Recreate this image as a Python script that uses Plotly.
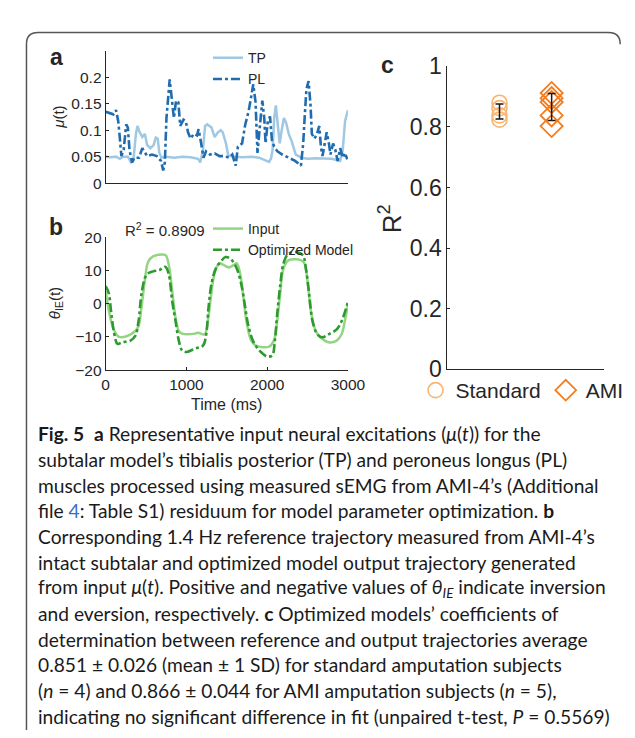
import numpy as np
import plotly.graph_objects as go

# ---------------- data ----------------
# Panel a: neural excitations mu(t)
tp_t = [0, 60, 130, 175, 215, 275, 315, 343, 375, 394, 422, 454, 486, 514, 554, 594, 621, 645, 665, 693,
        750, 850, 950, 1050, 1145, 1171, 1203, 1231, 1259, 1311, 1350, 1390, 1425, 1450, 1490, 1518,
        1600, 1700, 1800, 1900, 2023, 2047, 2067, 2087, 2107, 2139, 2155, 2179, 2207, 2235, 2267, 2306,
        2354, 2426, 2500, 2600, 2700, 2800, 2904, 2936, 2964, 3000]
tp_v = [0.050, 0.049, 0.050, 0.046, 0.050, 0.050, 0.039, 0.042, 0.093, 0.108, 0.096, 0.087, 0.093, 0.072,
        0.066, 0.072, 0.086, 0.084, 0.057, 0.048, 0.050, 0.048, 0.050, 0.049, 0.046, 0.039, 0.060, 0.108,
        0.111, 0.105, 0.087, 0.096, 0.100, 0.096, 0.075, 0.052, 0.050, 0.049, 0.050, 0.048, 0.040, 0.046,
        0.063, 0.123, 0.147, 0.099, 0.075, 0.099, 0.123, 0.114, 0.093, 0.078, 0.054, 0.048, 0.046, 0.047,
        0.046, 0.046, 0.042, 0.063, 0.117, 0.138]

pl_t = [0, 56, 96, 128, 155, 175, 195, 223, 255, 275, 295, 327, 355, 414, 454, 486, 514, 574, 633, 685,
        713, 733, 753, 793, 821, 845, 872, 900, 924, 964, 992, 1020, 1052, 1091, 1131, 1151, 1183, 1211,
        1243, 1291, 1350, 1410, 1470, 1530, 1569, 1610, 1637, 1689, 1729, 1769, 1797, 1828, 1856, 1880,
        1908, 1940, 1964, 1980, 2008, 2035, 2059, 2087, 2127, 2187, 2267, 2346, 2418, 2446, 2466, 2486,
        2513, 2537, 2553, 2585, 2617, 2645, 2665, 2685, 2713, 2737, 2764, 2784, 2816, 2844, 2872, 2904,
        2936, 2964, 2992]
pl_v = [0.135, 0.132, 0.130, 0.138, 0.118, 0.087, 0.051, 0.063, 0.111, 0.105, 0.063, 0.039, 0.048, 0.048,
        0.066, 0.058, 0.051, 0.054, 0.051, 0.042, 0.024, 0.039, 0.123, 0.196, 0.153, 0.123, 0.156, 0.153,
        0.108, 0.120, 0.117, 0.096, 0.084, 0.093, 0.090, 0.102, 0.075, 0.048, 0.060, 0.054, 0.056, 0.051,
        0.051, 0.048, 0.054, 0.033, 0.069, 0.075, 0.111, 0.135, 0.159, 0.187, 0.153, 0.057, 0.105, 0.156,
        0.123, 0.075, 0.117, 0.126, 0.081, 0.069, 0.060, 0.054, 0.048, 0.042, 0.033, 0.075, 0.129, 0.178,
        0.193, 0.147, 0.093, 0.084, 0.093, 0.108, 0.069, 0.051, 0.075, 0.096, 0.075, 0.054, 0.075, 0.063,
        0.042, 0.066, 0.048, 0.057, 0.045]

# Panel b: theta_IE(t)
in_t = [0, 28, 68, 108, 168, 267, 367, 407, 447, 487, 527, 587, 706, 746, 786, 826, 866, 906, 946, 1105,
        1145, 1225, 1265, 1305, 1345, 1405, 1464, 1524, 1584, 1624, 1664, 1704, 1744, 1803, 1863, 2023,
        2083, 2123, 2163, 2202, 2262, 2422, 2462, 2502, 2542, 2601, 2661, 2761, 2861, 2921, 2961, 3000]
in_v = [3.9, -0.5, -5.3, -8.2, -10.0, -9.7, -8.2, -6.8, -0.5, 7.2, 12.6, 14.2, 14.8, 14.5, 11.1, 3.4, -4.3,
        -8.2, -9.0, -9.0, -8.7, -9.2, -5.3, 2.4, 8.7, 12.1, 11.6, 10.9, 11.6, 12.1, 9.2, 2.4, -5.3, -11.1,
        -12.6, -12.9, -11.1, -5.3, 3.4, 10.6, 13.0, 13.0, 12.1, 6.3, -2.4, -8.2, -10.1, -11.6, -11.1, -9.2,
        -5.3, -0.5]

opt_t = [0, 36, 68, 108, 148, 207, 307, 367, 407, 447, 507, 587, 666, 738, 778, 826, 866, 906, 946, 1005,
         1105, 1205, 1245, 1273, 1313, 1365, 1424, 1484, 1544, 1604, 1644, 1684, 1724, 1764, 1823, 1883,
         1943, 2003, 2063, 2095, 2123, 2163, 2202, 2262, 2362, 2442, 2482, 2522, 2562, 2621, 2681, 2761,
         2861, 2921, 3000]
opt_v = [5.3, 3.4, -2.4, -9.2, -12.1, -11.6, -11.1, -9.7, -5.3, 3.4, 8.7, 9.7, 10.1, 11.1, 9.2, 0.5, -5.3,
         -11.1, -14.0, -14.5, -13.5, -12.6, -9.2, -1.4, 6.3, 10.6, 12.6, 14.0, 13.5, 11.6, 9.2, 5.3, -0.5,
         -6.3, -11.1, -13.5, -15.0, -15.9, -15.5, -11.1, -3.4, 5.8, 12.1, 15.0, 15.5, 14.5, 10.1, 2.4, -5.3,
         -9.2, -10.1, -9.2, -7.7, -5.3, 0.5]

# Panel c: R^2 per subject
groups = ["Standard", "AMI"]
group_x = [1, 2]
standard_r2 = [0.880, 0.862, 0.838, 0.824]
ami_r2 = [0.912, 0.895, 0.882, 0.838, 0.803]

a_yticks = [0, 0.05, 0.1, 0.15, 0.2]
a_yticktext = ["0", "0.05", "0.1", "0.15", "0.2"]
b_yticks = [-20, -10, 0, 10, 20]
b_xticks = [0, 1000, 2000, 3000]
c_yticks = [0, 0.2, 0.4, 0.6, 0.8, 1]

caption_lines = [
    "<b>Fig. 5</b>  <b>a</b> Representative input neural excitations (<i>μ</i>(<i>t</i>)) for the",
    "subtalar model’s tibialis posterior (TP) and peroneus longus (PL)",
    "muscles processed using measured sEMG from AMI-4’s (Additional",
    "file <span style='color:#3a6fc4'>4</span>: Table S1) residuum for model parameter optimization. <b>b</b>",
    "Corresponding 1.4 Hz reference trajectory measured from AMI-4’s",
    "intact subtalar and optimized model output trajectory generated",
    "from input <i>μ</i>(<i>t</i>). Positive and negative values of <i>θ<sub>IE</sub></i> indicate inversion",
    "and eversion, respectively. <b>c</b> Optimized models’ coefficients of",
    "determination between reference and output trajectories average",
    "0.851 ± 0.026 (mean ± 1 SD) for standard amputation subjects",
    "(<i>n</i> = 4) and 0.866 ± 0.044 for AMI amputation subjects (<i>n</i> = 5),",
    "indicating no significant difference in fit (unpaired t-test, <i>P</i> = 0.5569)",
]

# ---------------- figure ----------------
W, H = 635, 738
AX = "#262626"
FONT = "Liberation Sans, Arial, sans-serif"
CAPFONT = "Lato, sans-serif"

def px(x):
    return x / W

def py(y):
    return 1 - y / H

fig = go.Figure()

fig.add_trace(go.Scatter(x=tp_t, y=tp_v, mode="lines", name="TP",
                         line=dict(color="#9fc8e3", width=2.5), xaxis="x", yaxis="y", legend="legend"))
fig.add_trace(go.Scatter(x=pl_t, y=pl_v, mode="lines", name="PL",
                         line=dict(color="#1f6cb0", width=2.6, dash="dashdot"), xaxis="x", yaxis="y",
                         legend="legend"))

fig.add_trace(go.Scatter(x=in_t, y=in_v, mode="lines", name="Input", line_shape="spline",
                         line=dict(color="#93d582", width=2.5), xaxis="x2", yaxis="y2", legend="legend2"))
fig.add_trace(go.Scatter(x=opt_t, y=opt_v, mode="lines", name="Optimized Model", line_shape="spline",
                         line=dict(color="#2b9a2f", width=2.6, dash="dashdot"), xaxis="x2", yaxis="y2",
                         legend="legend2"))

fig.add_trace(go.Scatter(x=[group_x[0]] * len(standard_r2), y=standard_r2, mode="markers", name=groups[0],
                         marker=dict(symbol="circle-open", size=15, color="#f9b46e", line=dict(width=1.6)),
                         xaxis="x3", yaxis="y3", legend="legend3"))
fig.add_trace(go.Scatter(x=[group_x[1]] * len(ami_r2), y=ami_r2, mode="markers", name=groups[1],
                         marker=dict(symbol="diamond-open", size=17, color="#f47c1c", line=dict(width=1.8)),
                         xaxis="x3", yaxis="y3", legend="legend3"))
means = [float(np.mean(standard_r2)), float(np.mean(ami_r2))]
sds = [float(np.std(standard_r2, ddof=1)), float(np.std(ami_r2, ddof=1))]
fig.add_trace(go.Scatter(x=group_x, y=means, mode="markers", showlegend=False,
                         marker=dict(size=1, color="rgba(0,0,0,0)"),
                         error_y=dict(type="data", array=sds, visible=True, color="#1a1a1a",
                                      thickness=1.5, width=4),
                         xaxis="x3", yaxis="y3"))

axis_common = dict(showline=True, linecolor=AX, linewidth=1, showgrid=False, zeroline=False,
                   ticks="inside", tickcolor=AX, ticklen=3, tickfont=dict(family=FONT, color=AX))
small_tick = dict(family=FONT, color=AX, size=15.5)

fig.update_layout(
    width=W, height=H, margin=dict(l=0, r=0, t=0, b=0),
    paper_bgcolor="white", plot_bgcolor="white",
    font=dict(family=FONT, color=AX),
    xaxis=dict(domain=[px(97), px(348)], range=[0, 3000], anchor="y", showticklabels=False,
               **{**axis_common, "ticks": ""}),
    yaxis=dict(domain=[py(168), py(31)], range=[0, 0.25], anchor="x", tickvals=a_yticks,
               ticktext=a_yticktext, **{**axis_common, "tickfont": small_tick}),
    xaxis2=dict(domain=[px(97), px(348)], range=[0, 3000], anchor="y2", tickvals=b_xticks,
                **{**axis_common, "tickfont": small_tick}),
    yaxis2=dict(domain=[py(362), py(224)], range=[-20, 20], anchor="x2", tickvals=b_yticks,
                **{**axis_common, "tickfont": small_tick}),
    xaxis3=dict(domain=[px(451), px(613)], range=[0, 3], anchor="y3", showticklabels=False,
                **{**axis_common, "ticks": ""}),
    yaxis3=dict(domain=[py(361), py(47)], range=[0, 1], anchor="x3", tickvals=c_yticks,
                **{**axis_common, "tickfont": dict(family=FONT, color=AX, size=23)}),
    legend=dict(x=px(203), y=py(22), xanchor="left", yanchor="top", bgcolor="rgba(0,0,0,0)",
                font=dict(family=FONT, size=14, color=AX), itemwidth=30, tracegroupgap=0),
    legend2=dict(x=px(203), y=py(199), xanchor="left", yanchor="top", bgcolor="rgba(0,0,0,0)",
                 font=dict(family=FONT, size=14, color=AX), itemwidth=30, tracegroupgap=0),
    legend3=dict(x=px(418), y=py(383), xanchor="left", yanchor="middle", orientation="h",
                 bgcolor="rgba(0,0,0,0)", font=dict(family=FONT, size=21, color=AX), itemwidth=30),
)

ann = []
def add_text(x, y, text, size, bold=False, angle=0, xanchor="center", family=FONT, color=AX):
    ann.append(dict(x=px(x), y=py(y), xref="paper", yref="paper", text=f"<b>{text}</b>" if bold else text,
                    showarrow=False, xanchor=xanchor, yanchor="middle", textangle=angle,
                    font=dict(family=family, size=size, color=color)))

add_text(46, 37, "a", 23, bold=True)
add_text(46, 214, "b", 23, bold=True)
add_text(389, 46, "c", 23, bold=True)
add_text(48, 100, "<i>μ</i>(t)", 15, angle=-90)
add_text(45, 292, "<i>θ</i><sub>IE</sub>(t)", 15, angle=-90)
add_text(222, 397, "Time (ms)", 16)
add_text(159, 216, "R<sup>2</sup> = 0.8909", 15)
add_text(392, 205, "R<sup>2</sup>", 26, angle=-90)

cap_y0, cap_dy = 428, 26.6
for i, line in enumerate(caption_lines):
    add_text(25, cap_y0 + i * cap_dy, line, 19.2, xanchor="left", family=CAPFONT, color="#1a1a1a")

fig.update_layout(annotations=ann)

# frame around figure
fig.add_shape(type="path", xref="paper", yref="paper",
              path=f"M {px(15)},{py(735)} L {px(15)},{py(24)} Q {px(15)},{py(12)} {px(27)},{py(12)} "
                   f"L {px(618)},{py(12)} Q {px(630)},{py(12)} {px(630)},{py(24)}",
              line=dict(color="#555555", width=1.5))

fig.write_html("out.html")
